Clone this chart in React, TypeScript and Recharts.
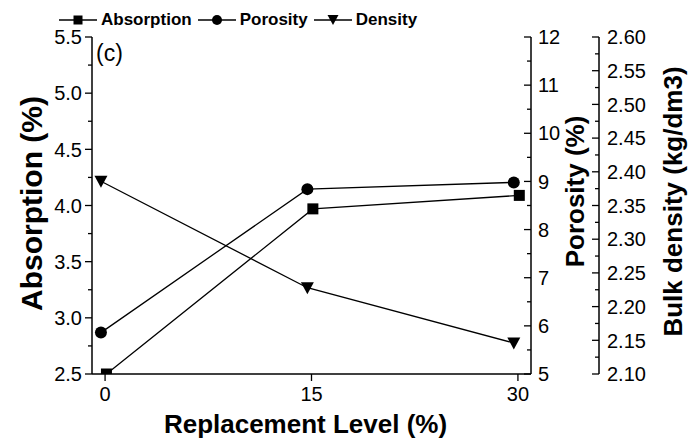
import { LineChart, Line, XAxis, YAxis, Legend, Label } from "recharts";

// (x is slightly offset per series, as in the original plot)
const replacementLevels = [0, 15, 30];
const absorptionX = [0.1, 15.1, 30.1];
const porosityX = [-0.3, 14.7, 29.7];
const densityX = [-0.3, 14.7, 29.7];

const absorption = [2.5, 3.97, 4.09];
const porosity = [5.86, 8.84, 8.98];
const density = [2.386, 2.228, 2.146];

const absorptionTicks = [2.5, 3.0, 3.5, 4.0, 4.5, 5.0, 5.5];
const absorptionMinor = [2.75, 3.25, 3.75, 4.25, 4.75, 5.25];
const porosityTicks = [5, 6, 7, 8, 9, 10, 11, 12];
const porosityMinor = [5.5, 6.5, 7.5, 8.5, 9.5, 10.5, 11.5];
const densityTicks = [2.1, 2.15, 2.2, 2.25, 2.3, 2.35, 2.4, 2.45, 2.5, 2.55, 2.6];
const densityMinor = [2.125, 2.175, 2.225, 2.275, 2.325, 2.375, 2.425, 2.475, 2.525, 2.575];

const FONT = '"Liberation Sans", Arial, Helvetica, sans-serif';

const absorptionData = absorption.map((v, i) => ({ x: absorptionX[i], v }));
const porosityData = porosity.map((v, i) => ({ x: porosityX[i], v }));
const densityData = density.map((v, i) => ({ x: densityX[i], v }));

const isMajor = (v: number, majors: number[]) => majors.some((m) => Math.abs(m - v) < 1e-6);
const sorted = (a: number[], b: number[]) => [...a, ...b].sort((p, q) => p - q);

// left axis: ticks point outward
const LeftTick = (props: any) => {
  const { x, y, payload } = props;
  const ax = x + 10;
  const major = isMajor(payload.value, absorptionTicks);
  return (
    <g>
      <line x1={ax} x2={ax - (major ? 7 : 4)} y1={y} y2={y} stroke="#000" strokeWidth={1.3} />
      {major && (
        <text x={x} y={y} dy="0.36em" textAnchor="end" fontSize={20} fontFamily={FONT} fill="#000">
          {payload.value.toFixed(1)}
        </text>
      )}
    </g>
  );
};

// right axes: ticks point to the left, labels on the right
const rightTick = (majors: number[], gap: number, digits: number) => (props: any) => {
  const { x, y, payload } = props;
  const ax = x - gap;
  const major = isMajor(payload.value, majors);
  return (
    <g>
      <line x1={ax} x2={ax - (major ? 7 : 4)} y1={y} y2={y} stroke="#000" strokeWidth={1.3} />
      {major && (
        <text x={x} y={y} dy="0.36em" textAnchor="start" fontSize={20} fontFamily={FONT} fill="#000">
          {payload.value.toFixed(digits)}
        </text>
      )}
    </g>
  );
};

const BottomTick = (props: any) => {
  const { x, y, payload } = props;
  return (
    <g>
      <line x1={x} x2={x} y1={y - 13} y2={y - 6} stroke="#000" strokeWidth={1.3} />
      <text x={x} y={y} dy="0.72em" textAnchor="middle" fontSize={20} fontFamily={FONT} fill="#000">
        {payload.value}
      </text>
    </g>
  );
};

const vTitle = (text: string, dx: number, dy: number, size: number) => (props: any) => {
  const vb = props.viewBox;
  const cx = vb.x + dx;
  const cy = vb.y + vb.height / 2 + dy;
  return (
    <text x={cx} y={cy} transform={`rotate(-90 ${cx} ${cy})`} textAnchor="middle"
      fontSize={size} fontWeight="bold" fontFamily={FONT} fill="#000">
      {text}
    </text>
  );
};

const xTitle = (props: any) => {
  const vb = props.viewBox;
  return (
    <text x={vb.x + vb.width / 2 - 6} y={vb.y + 59} textAnchor="middle"
      fontSize={26} fontWeight="bold" fontFamily={FONT} fill="#000">
      Replacement Level (%)
    </text>
  );
};

const Square = (p: any) =>
  p.cx == null ? null : <rect key={`s${p.index}`} x={p.cx - 5.5} y={p.cy - 5.5} width={11} height={11} fill="#000" />;
const Circle = (p: any) =>
  p.cx == null ? null : <circle key={`c${p.index}`} cx={p.cx} cy={p.cy} r={6} fill="#000" />;
const Triangle = (p: any) =>
  p.cx == null ? null : (
    <path key={`t${p.index}`} d={`M${p.cx - 6.5},${p.cy - 5.5}L${p.cx + 6.5},${p.cy - 5.5}L${p.cx},${p.cy + 6.5}Z`} fill="#000" />
  );

const legendItems = [
  { name: "Absorption", shape: "square" },
  { name: "Porosity", shape: "circle" },
  { name: "Density", shape: "triangle" },
];

const LegendIcon = ({ shape }: { shape: string }) => (
  <svg width={40} height={16} style={{ display: "block" }}>
    <line x1={1} x2={39} y1={8} y2={8} stroke="#000" strokeWidth={1.5} />
    {shape === "square" && <rect x={15.5} y={3.5} width={9} height={9} fill="#000" />}
    {shape === "circle" && <circle cx={20} cy={8} r={5} fill="#000" />}
    {shape === "triangle" && <path d="M14.5,3 L25.5,3 L20,13 Z" fill="#000" />}
  </svg>
);

const renderLegend = () => (
  <div style={{ display: "flex", alignItems: "center", fontFamily: FONT, fontWeight: "bold", fontSize: 17, color: "#000" }}>
    {legendItems.map((it) => (
      <div key={it.name} style={{ display: "flex", alignItems: "center", marginRight: 5 }}>
        <LegendIcon shape={it.shape} />
        <span style={{ marginLeft: 3 }}>{it.name}</span>
      </div>
    ))}
  </div>
);

export default function App() {
  return (
    <div style={{ position: "absolute", left: 0, top: 0, width: 689, height: 439, background: "#fff" }}>
      <LineChart width={689} height={439} margin={{ top: 37, right: 0, bottom: 0, left: 0 }}>
        <XAxis
          type="number"
          dataKey="x"
          domain={[-0.95, 30.95]}
          ticks={replacementLevels}
          interval={0}
          height={65}
          tickSize={7}
          tickMargin={6}
          tickLine={false}
          tick={BottomTick}
          axisLine={{ stroke: "#000", strokeWidth: 1.5 }}
        >
          <Label content={xTitle} />
        </XAxis>
        <YAxis
          yAxisId="y1"
          orientation="left"
          type="number"
          domain={[2.5, 5.5]}
          allowDataOverflow
          ticks={sorted(absorptionTicks, absorptionMinor)}
          interval={0}
          width={92}
          tickSize={7}
          tickMargin={3}
          tickLine={false}
          tick={LeftTick}
          axisLine={{ stroke: "#000", strokeWidth: 1.5 }}
        >
          <Label content={vTitle("Absorption (%)", 42, -2, 30)} />
        </YAxis>
        <YAxis
          yAxisId="y2"
          orientation="right"
          type="number"
          domain={[5, 12]}
          ticks={sorted(porosityTicks, porosityMinor)}
          interval={0}
          width={68}
          tickSize={0}
          tickMargin={7}
          tickLine={false}
          tick={rightTick(porosityTicks, 7, 0)}
          axisLine={{ stroke: "#000", strokeWidth: 1.5 }}
        >
          <Label content={vTitle("Porosity (%)", 53, -14, 26)} />
        </YAxis>
        <YAxis
          yAxisId="y3"
          orientation="right"
          type="number"
          domain={[2.1, 2.6]}
          ticks={sorted(densityTicks, densityMinor)}
          interval={0}
          width={90}
          tickSize={0}
          tickMargin={8}
          tickLine={false}
          tick={rightTick(densityTicks, 8, 2)}
          axisLine={{ stroke: "#000", strokeWidth: 1.5 }}
        >
          <Label content={vTitle("Bulk density (kg/dm3)", 83, -4, 26)} />
        </YAxis>
        <Legend
          layout="horizontal"
          verticalAlign="middle"
          align="center"
          content={renderLegend}
          wrapperStyle={{ top: 10, left: 58, width: 400, height: 24 }}
        />
        <Line yAxisId="y1" data={absorptionData} dataKey="v" name="Absorption" type="linear"
          stroke="#000" strokeWidth={1.3} dot={Square} activeDot={false} isAnimationActive={false} />
        <Line yAxisId="y2" data={porosityData} dataKey="v" name="Porosity" type="linear"
          stroke="#000" strokeWidth={1.3} dot={Circle} activeDot={false} isAnimationActive={false} />
        <Line yAxisId="y3" data={densityData} dataKey="v" name="Density" type="linear"
          stroke="#000" strokeWidth={1.3} dot={Triangle} activeDot={false} isAnimationActive={false} />
      </LineChart>
      <div style={{ position: "absolute", left: 96, top: 42, fontFamily: FONT, fontSize: 23, lineHeight: "23px", color: "#000" }}>
        (c)
      </div>
    </div>
  );
}
